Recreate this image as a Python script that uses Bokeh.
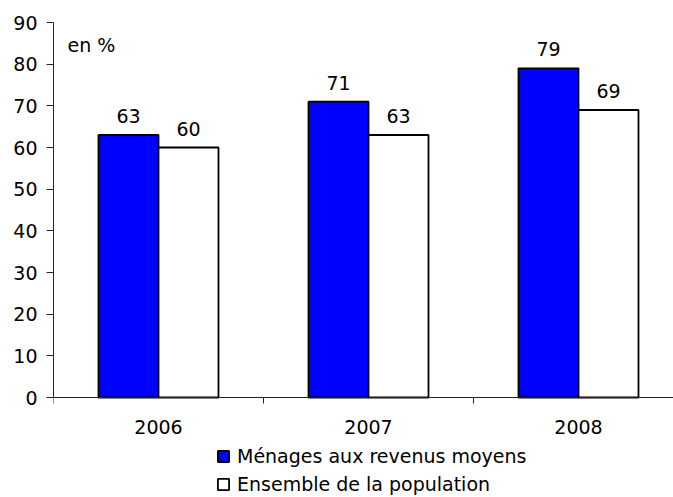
from bokeh.plotting import figure
from bokeh.core.properties import value
from bokeh.models import (Range1d, FixedTicker, LinearAxis, ColumnDataSource,
                          LabelSet, Label, Legend, LegendItem)
from bokeh.embed import file_html
from bokeh.resources import INLINE

years = ["2006", "2007", "2008"]
menages = [63, 71, 79]
ensemble = [60, 63, 69]
series_names = ["Ménages aux revenus moyens", "Ensemble de la population"]
series_colors = ["#0000FF", "#FFFFFF"]
y_ticks = [0, 10, 20, 30, 40, 50, 60, 70, 80, 90]
unit_label = "en %"

FONT = "DejaVu Sans"
FS = "19px"

# category layout: each category spans 2 units, centred on odd integers
centers = [2 * i + 1 for i in range(len(years))]
bounds = [2 * i for i in range(len(years) + 1)]
bar_w = 0.5714
x_m = [c - bar_w / 2 for c in centers]
x_e = [c + bar_w / 2 for c in centers]

p = figure(width=673, height=497,
           x_range=Range1d(0, 620 / 105), y_range=Range1d(-24, 90),
           output_backend="svg", toolbar_location=None,
           x_axis_type=None, y_axis_type=None,
           min_border_left=53, min_border_right=0,
           min_border_top=22, min_border_bottom=0)
p.outline_line_color = None
p.background_fill_color = "white"
p.border_fill_color = "white"

src_m = ColumnDataSource(dict(x=x_m, top=menages, lab=[str(v) for v in menages]))
src_e = ColumnDataSource(dict(x=x_e, top=ensemble, lab=[str(v) for v in ensemble]))

r_m = p.vbar(x="x", top="top", bottom=0, width=bar_w, source=src_m,
             fill_color=series_colors[0], line_color="black", line_width=1.8)
r_e = p.vbar(x="x", top="top", bottom=0, width=bar_w, source=src_e,
             fill_color=series_colors[1], line_color="black", line_width=1.8)

for src in (src_m, src_e):
    p.add_layout(LabelSet(x="x", y="top", text="lab", source=src,
                          y_offset=12, text_align="center",
                          text_baseline="alphabetic",
                          text_font=value(FONT), text_font_size=value(FS),
                          text_color="black"))

yaxis = LinearAxis(ticker=FixedTicker(ticks=y_ticks), bounds=(0, 90),
                   major_tick_out=7, major_tick_in=0,
                   minor_tick_out=0, minor_tick_in=0,
                   major_label_standoff=9,
                   axis_line_color="#222222", major_tick_line_color="#222222",
                   major_label_text_font=FONT, major_label_text_font_size=FS,
                   major_label_text_color="black")
p.add_layout(yaxis, "left")

xaxis = LinearAxis(ticker=FixedTicker(ticks=centers, minor_ticks=bounds),
                   fixed_location=0,
                   major_tick_out=0, major_tick_in=0,
                   minor_tick_out=6, minor_tick_in=0,
                   major_label_standoff=16,
                   major_label_overrides={c: y for c, y in zip(centers, years)},
                   axis_line_color="#222222", minor_tick_line_color="#222222",
                   major_label_text_font=FONT, major_label_text_font_size=FS,
                   major_label_text_color="black")
p.add_layout(xaxis, "below")

p.add_layout(Label(x=0.133, y=84.5, text=unit_label, text_font=FONT,
                   text_font_size=FS, text_align="left",
                   text_baseline="alphabetic", text_color="black"))

legend = Legend(items=[LegendItem(label=series_names[0], renderers=[r_m]),
                       LegendItem(label=series_names[1], renderers=[r_e])],
                location=(163, 2), orientation="vertical",
                glyph_width=14, glyph_height=14, label_standoff=7,
                label_height=20,
                padding=0, margin=0, spacing=6,
                border_line_color=None, background_fill_alpha=0,
                label_text_font=FONT, label_text_font_size=FS,
                label_text_color="black")
p.add_layout(legend, "center")

open("out.html", "w").write(file_html(p, INLINE))
